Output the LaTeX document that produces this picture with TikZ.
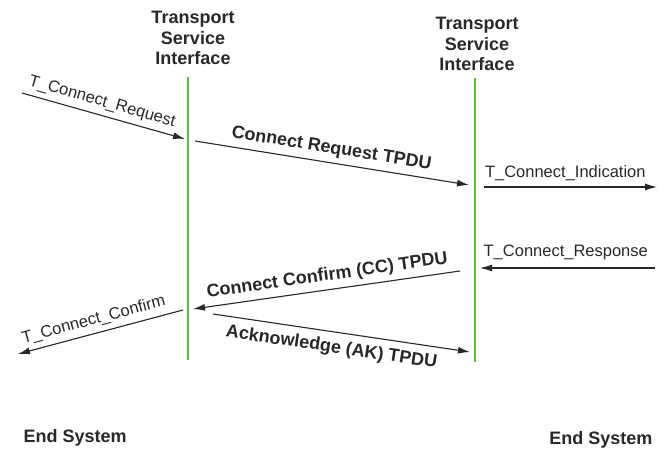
\documentclass[tikz,border=0pt]{standalone}
\usepackage{fontspec}
\setmainfont{Liberation Sans}
\usepackage{xcolor}
\usetikzlibrary{arrows.meta}

\definecolor{tsigreen}{RGB}{88,196,62}
\definecolor{msgline}{RGB}{40,40,40}

\begin{document}
\begin{tikzpicture}[x=1pt,y=-1pt,
  hdr/.style={font=\fontsize{18}{20.5}\selectfont\bfseries, align=center, text=msgline},
  pdu/.style={font=\fontsize{18}{20}\selectfont\bfseries, text=msgline},
  prim/.style={font=\fontsize{16.5}{18}\selectfont, text=msgline},
  msg/.style={draw=msgline, line width=1.1pt, -{Latex[length=12pt,width=7pt]}},
  msgback/.style={draw=msgline, line width=1.1pt, {Latex[length=12pt,width=7pt]}-},
  iface/.style={draw=tsigreen, line width=1.2pt}]

\useasboundingbox (0,0) rectangle (663,454);

% service interfaces
\node[hdr] (tsiL) at (193,38) {Transport\\Service\\Interface};
\node[hdr] (tsiR) at (477,44) {Transport\\Service\\Interface};
\coordinate (ifLtop) at (188,77);
\coordinate (ifLbot) at (188,360);
\coordinate (ifRtop) at (475,78);
\coordinate (ifRbot) at (475,362);
\draw[iface] (ifLtop) -- (ifLbot);
\draw[iface] (ifRtop) -- (ifRbot);

% end points of the messages
\coordinate (req0) at (22,93);
\coordinate (req1) at (185,139);
\coordinate (crq0) at (195,141);
\coordinate (crq1) at (469,185);
\coordinate (ind0) at (484,187);
\coordinate (ind1) at (657,187);
\coordinate (rsp0) at (480,268);
\coordinate (rsp1) at (655,268);
\coordinate (cc0) at (193,309);
\coordinate (cc1) at (460,271);
\coordinate (cnf0) at (18,354);
\coordinate (cnf1) at (183,310);
\coordinate (ak0) at (213,314);
\coordinate (ak1) at (470,352);

% connect request
\draw[msg] (req0) -- node[prim, sloped, above, inner sep=5pt, pos=0.47] (reqlbl) {T\_Connect\_Request} (req1);
\draw[msg] (crq0) -- node[pdu, sloped, above, inner sep=5pt, pos=0.49] (crqlbl) {Connect Request TPDU} (crq1);
\draw[msg] (ind0) -- node[prim, above, inner sep=6pt, pos=0.47] (indlbl) {T\_Connect\_Indication} (ind1);

% connect confirm
\draw[msgback] (rsp0) -- node[prim, above, inner sep=8pt, pos=0.49] (rsplbl) {T\_Connect\_Response} (rsp1);
\draw[msgback] (cc0) -- node[pdu, sloped, above, inner sep=5pt, pos=0.51] (cclbl) {Connect Confirm (CC) TPDU} (cc1);
\draw[msgback] (cnf0) -- node[prim, sloped, above, inner sep=5pt, pos=0.48] (cnflbl) {T\_Connect\_Confirm} (cnf1);

% acknowledge
\draw[msg] (ak0) -- node[pdu, sloped, below, inner sep=7pt, pos=0.47] (aklbl) {Acknowledge (AK) TPDU} (ak1);

\node[pdu, anchor=west] (esL) at (20,438) {End System};
\node[pdu, anchor=east] (esR) at (656,440) {End System};

\end{tikzpicture}
\end{document}
